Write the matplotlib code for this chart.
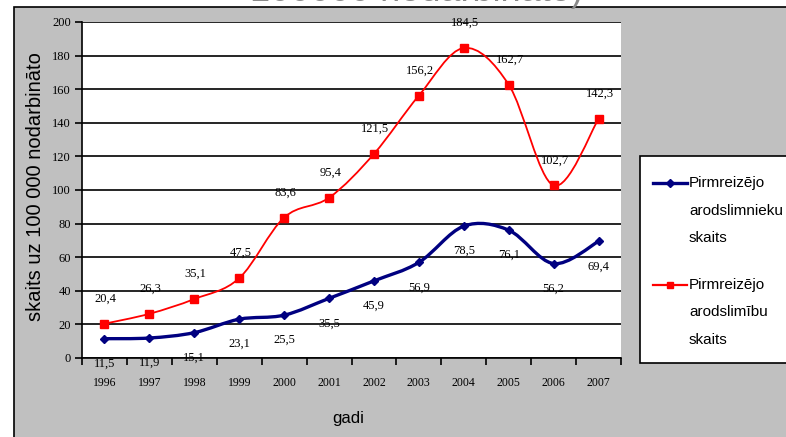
import matplotlib
matplotlib.use("Agg")
import matplotlib.pyplot as plt
import numpy as np
from matplotlib.path import Path
from matplotlib.patches import PathPatch, Rectangle
from matplotlib.lines import Line2D

# dati
years = ['1996', '1997', '1998', '1999', '2000', '2001',
         '2002', '2003', '2004', '2005', '2006', '2007']
arodslimnieki = [11.5, 11.9, 15.1, 23.1, 25.5, 35.5, 45.9, 56.9, 78.5, 76.1, 56.2, 69.4]
arodslimibas = [20.4, 26.3, 35.1, 47.5, 83.6, 95.4, 121.5, 156.2, 184.5, 162.7, 102.7, 142.3]
y_ticks = list(range(0, 201, 20))
legend_labels = ['Pirmreizējo\narodslimnieku\nskaits', 'Pirmreizējo\narodslimību\nskaits']

plt.rcParams['font.family'] = ['Liberation Serif', 'DejaVu Serif']
SANS = ['Liberation Sans', 'DejaVu Sans']
W, H = 786, 437


def smooth_path(x, y):
    # gluda līkne kā Excel (Bezjē)
    pts = np.column_stack([x, y]).astype(float)
    ext = np.vstack([pts[0], pts, pts[-1]])
    verts = [pts[0]]
    codes = [Path.MOVETO]
    for i in range(len(pts) - 1):
        p0, p1, p2, p3 = ext[i], ext[i + 1], ext[i + 2], ext[i + 3]
        verts += [p1 + (p2 - p0) / 6, p2 - (p3 - p1) / 6, p2]
        codes += [Path.CURVE4] * 3
    return Path(verts, codes)


def fmt(v):
    return f'{v:.1f}'.replace('.', ',')


fig = plt.figure(figsize=(W / 100, H / 100), dpi=100, facecolor='white')

# pelēkais fons
fig.patches.append(Rectangle((14 / W, -0.05), 1.0, 1 - 7 / H + 0.05, transform=fig.transFigure,
                             facecolor='#c0c0c0', edgecolor='black', lw=1.2, zorder=-1))
# virsraksta apakšdaļa
fig.text(0.53, 1 - 1 / H, '100000 nodarbināto)', family=SANS, fontsize=26,
         color='#8a8a8a', ha='center', va='baseline')

ax = fig.add_axes([82 / W, (H - 358) / H, 539 / W, 336 / H])
ax.set_facecolor('white')
x = np.arange(len(years))

ax.add_patch(PathPatch(smooth_path(x, arodslimibas), fill=False, edgecolor='#ff0000', lw=1.3, zorder=3))
ax.add_patch(PathPatch(smooth_path(x, arodslimnieki), fill=False, edgecolor='#000080', lw=2.4, zorder=3))
ax.plot(x, arodslimibas, ls='none', marker='s', ms=6, color='#ff0000', zorder=4)
ax.plot(x, arodslimnieki, ls='none', marker='D', ms=4.5, color='#000080', zorder=4)

for i, v in enumerate(arodslimibas):
    ax.annotate(fmt(v), (i, v), xytext=(1, 18), textcoords='offset points',
                ha='center', va='center', fontsize=9)
for i, v in enumerate(arodslimnieki):
    ax.annotate(fmt(v), (i, v), xytext=(0, -18), textcoords='offset points',
                ha='center', va='center', fontsize=9)

ax.set_xlim(-0.5, len(years) - 0.5)
ax.set_ylim(0, 200)
ax.set_yticks(y_ticks)
ax.yaxis.grid(True, color='black', lw=1.2)
ax.set_axisbelow(True)
ax.tick_params(axis='y', length=5, width=1.2, pad=3, labelsize=9)

ax.set_xticks(np.arange(-0.5, len(years), 1))
ax.set_xticklabels([])
ax.set_xticks(x, minor=True)
ax.set_xticklabels(years, minor=True, fontsize=8.5)
ax.tick_params(axis='x', which='major', length=5, width=1.2)
ax.tick_params(axis='x', which='minor', length=0, pad=14)

for side in ['top', 'right']:
    ax.spines[side].set_visible(False)
for side in ['left', 'bottom']:
    ax.spines[side].set_linewidth(1.2)

ax.set_ylabel('skaits uz 100 000 nodarbināto', family=SANS, fontsize=14.5, va='center')
ax.yaxis.set_label_coords(-0.087, 0.51)
ax.set_xlabel('gadi', family=SANS, fontsize=12, va='center')
ax.xaxis.set_label_coords(0.4935, -0.179)

# leģenda
fig.patches.append(Rectangle((640 / W, 1 - 363 / H), 0.5, (363 - 156) / H, transform=fig.transFigure,
                             facecolor='white', edgecolor='black', lw=1.2, zorder=1))
legend_style = [('#000080', 'D', 2.4, 4), ('#ff0000', 's', 1.6, 5)]
legend_y = [183, 285]
for label, (col, mk, lw, ms), ly in zip(legend_labels, legend_style, legend_y):
    fig.lines.append(Line2D([653 / W, 687 / W], [1 - ly / H] * 2, transform=fig.transFigure,
                            color=col, lw=lw, zorder=2))
    fig.lines.append(Line2D([670 / W], [1 - ly / H], transform=fig.transFigure, color=col,
                            marker=mk, ms=ms, zorder=2))
    for k, line in enumerate(label.split('\n')):
        fig.text(689 / W, 1 - (ly + 27.5 * k) / H, line, family=SANS, fontsize=11,
                 ha='left', va='center')

fig.savefig('out.png', dpi=100, facecolor='white')
